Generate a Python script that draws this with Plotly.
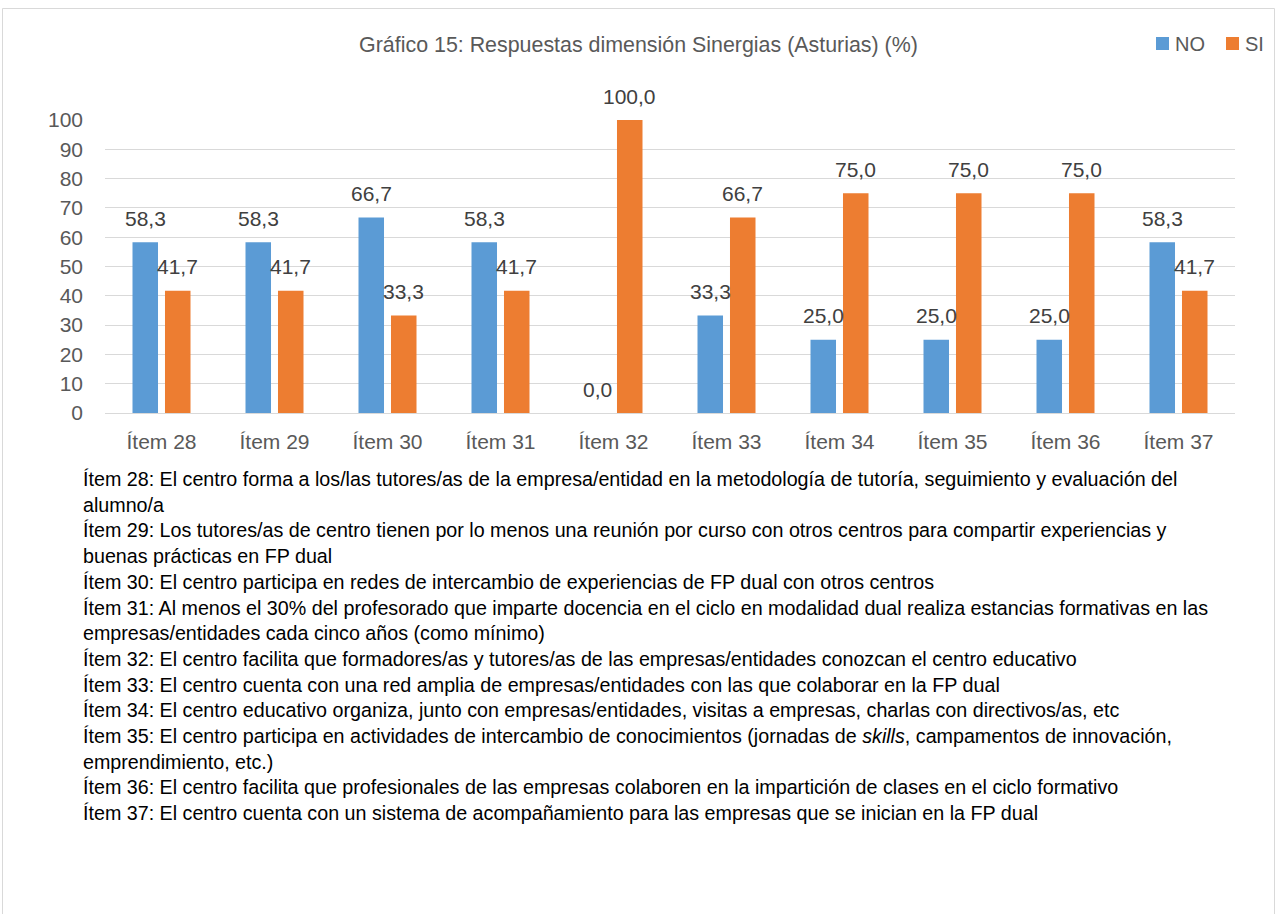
import plotly.graph_objects as go

# datos del gráfico 15 (Asturias, dimensión Sinergias)
items = ["Ítem 28", "Ítem 29", "Ítem 30", "Ítem 31", "Ítem 32",
         "Ítem 33", "Ítem 34", "Ítem 35", "Ítem 36", "Ítem 37"]
no_vals = [58.3, 58.3, 66.7, 58.3, 0.0, 33.3, 25.0, 25.0, 25.0, 58.3]
si_vals = [41.7, 41.7, 33.3, 41.7, 100.0, 66.7, 75.0, 75.0, 75.0, 41.7]
y_ticks = [0, 10, 20, 30, 40, 50, 60, 70, 80, 90, 100]

notas = [
    "Ítem 28: El centro forma a los/las tutores/as de la empresa/entidad en la metodología de tutoría, seguimiento y evaluación del",
    "alumno/a",
    "Ítem 29: Los tutores/as de centro tienen por lo menos una reunión por curso con otros centros para compartir experiencias y",
    "buenas prácticas en FP dual",
    "Ítem 30: El centro participa en redes de intercambio de experiencias de FP dual con otros centros",
    "Ítem 31: Al menos el 30% del profesorado que imparte docencia en el ciclo en modalidad dual realiza estancias formativas en las",
    "empresas/entidades cada cinco años (como mínimo)",
    "Ítem 32: El centro facilita que formadores/as y tutores/as de las empresas/entidades conozcan el centro educativo",
    "Ítem 33: El centro cuenta con una red amplia de empresas/entidades con las que colaborar en la FP dual",
    "Ítem 34: El centro educativo organiza, junto con empresas/entidades, visitas a empresas, charlas con directivos/as, etc",
    "Ítem 35: El centro participa en actividades de intercambio de conocimientos (jornadas de <i>skills</i>, campamentos de innovación,",
    "emprendimiento, etc.)",
    "Ítem 36: El centro facilita que profesionales de las empresas colaboren en la impartición de clases en el ciclo formativo",
    "Ítem 37: El centro cuenta con un sistema de acompañamiento para las empresas que se inician en la FP dual",
]

W, H = 1277, 914
ML, MR, MT, MB = 105, 42, 120, 501
plot_w = W - ML - MR
plot_h = H - MT - MB

def px_x(px):
    return (px - ML) / plot_w

def px_y(py):
    return (H - MB - py) / plot_h

FONT = "Liberation Sans, Arial, sans-serif"
GRIS = "#595959"
AZUL = "#5B9BD5"
NARANJA = "#ED7D31"

def fmt(v):
    return f"{v:.1f}".replace(".", ",")

fig = go.Figure()
fig.add_trace(go.Bar(x=items, y=no_vals, name="NO", marker_color=AZUL,
                     marker_line_width=0, hoverinfo="skip", showlegend=False))
fig.add_trace(go.Bar(x=items, y=si_vals, name="SI", marker_color=NARANJA,
                     marker_line_width=0, hoverinfo="skip", showlegend=False))

# etiquetas de datos encima de cada barra
anns = []
for it, v in zip(items, no_vals):
    anns.append(dict(x=it, y=v, text=fmt(v), showarrow=False, xshift=-16, yshift=24,
                     yanchor="middle", font=dict(size=21, color="#404040", family=FONT)))
for it, v in zip(items, si_vals):
    anns.append(dict(x=it, y=v, text=fmt(v), showarrow=False, xshift=16, yshift=24,
                     yanchor="middle", font=dict(size=21, color="#404040", family=FONT)))

# notas bajo el gráfico
for i, linea in enumerate(notas):
    anns.append(dict(xref="paper", yref="paper", x=px_x(81), y=px_y(479 + i * 25.7),
                     xanchor="left", yanchor="middle", text=linea, showarrow=False,
                     align="left", font=dict(size=19.7, color="black", family=FONT)))

# leyenda hecha a mano arriba a la derecha
shapes = []
for nombre, color, x0 in [("NO", AZUL, 1156), ("SI", NARANJA, 1226)]:
    shapes.append(dict(type="rect", xref="paper", yref="paper",
                       x0=px_x(x0), x1=px_x(x0 + 13), y0=px_y(50), y1=px_y(37),
                       fillcolor=color, line=dict(width=0)))
    anns.append(dict(xref="paper", yref="paper", x=px_x(x0 + 17), y=px_y(44),
                     xanchor="left", yanchor="middle", text=nombre, showarrow=False,
                     font=dict(size=20, color=GRIS, family=FONT)))

# marco gris del gráfico
shapes.append(dict(type="rect", xref="paper", yref="paper",
                   x0=px_x(2.5), x1=px_x(1274.5), y0=px_y(930), y1=px_y(8.5),
                   line=dict(color="#D9D9D9", width=1), fillcolor="rgba(0,0,0,0)", layer="below"))

fig.update_layout(
    width=W, height=H,
    margin=dict(l=ML, r=MR, t=MT, b=MB),
    paper_bgcolor="white", plot_bgcolor="white",
    barmode="group", bargap=0.425, bargroupgap=0.215,
    title=dict(text="Gráfico 15: Respuestas dimensión Sinergias (Asturias) (%)",
               x=0.5, xanchor="center", y=1 - 45 / H, yanchor="middle",
               font=dict(size=21.4, color=GRIS, family=FONT)),
    showlegend=False,
    annotations=anns,
    shapes=shapes,
)
fig.update_xaxes(showgrid=False, showline=True, linecolor="#D9D9D9", linewidth=1,
                 ticks="", ticklabelstandoff=10,
                 tickfont=dict(size=21, color=GRIS, family=FONT))
fig.update_yaxes(range=[0, 100], tickvals=y_ticks, showgrid=True, gridcolor="#D9D9D9",
                 gridwidth=1, zeroline=False, showline=False, ticks="", ticklabelstandoff=21,
                 tickfont=dict(size=21, color=GRIS, family=FONT))

# sin margen en el body para que la figura ocupe la ventana
fig.write_html("out.html", config={"displayModeBar": False},
               post_script="document.body.style.margin='0';")
